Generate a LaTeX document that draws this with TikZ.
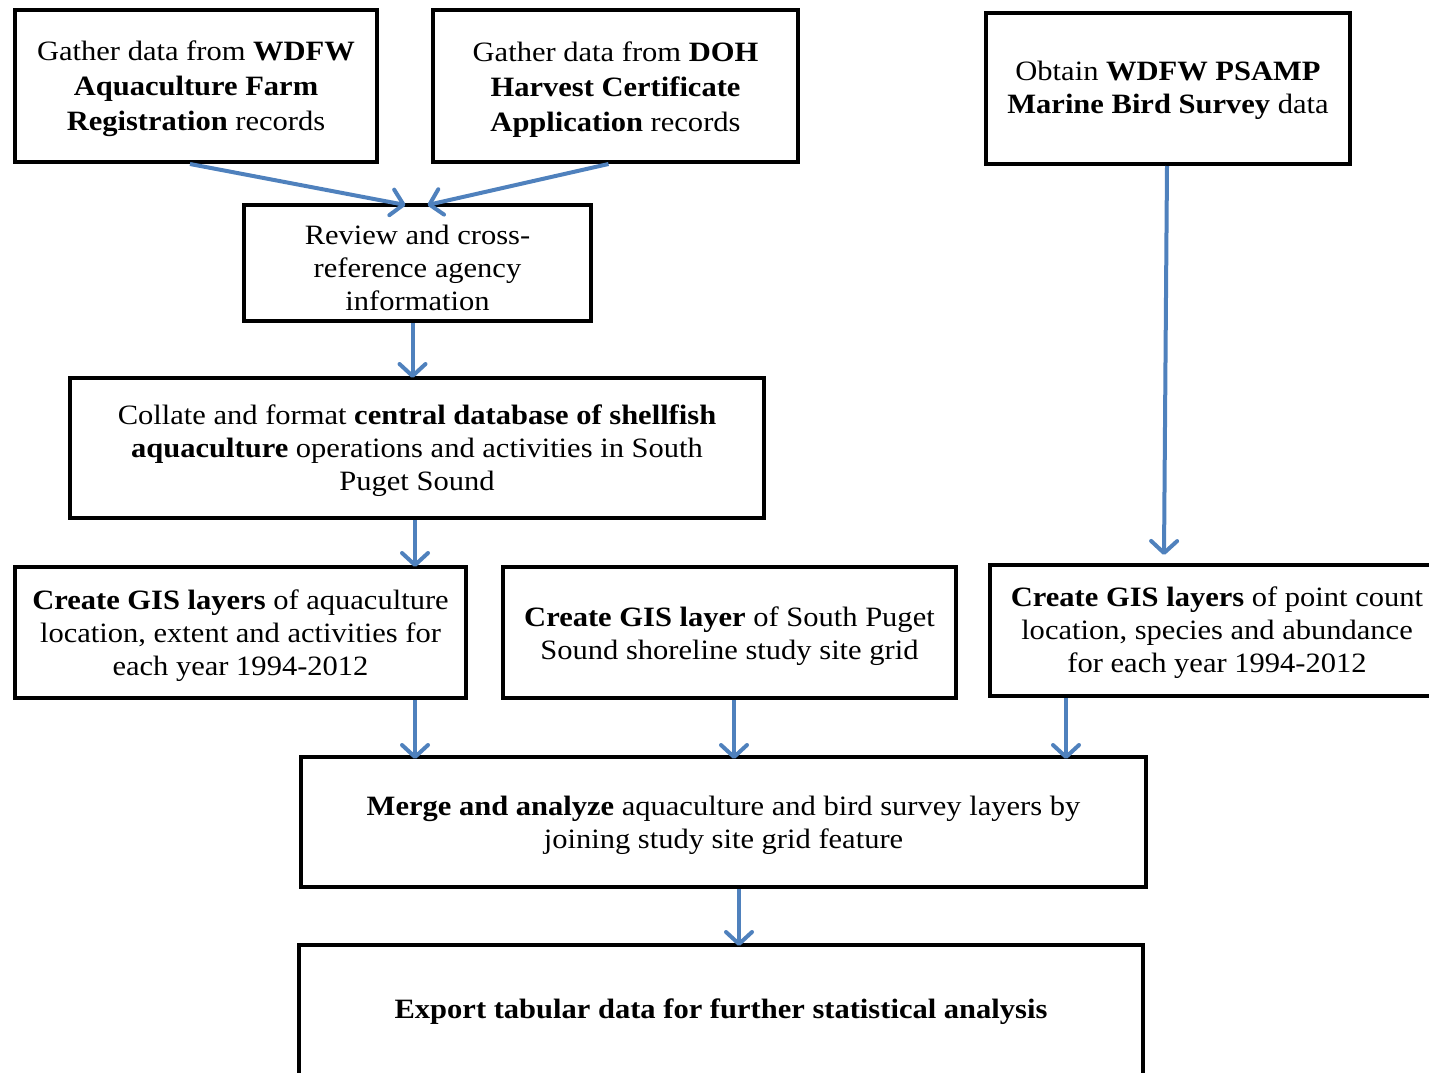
\documentclass[tikz,border=0pt]{standalone}
\usepackage{fontspec}
\setmainfont{Liberation Serif}[FakeStretch=1.09]
\usetikzlibrary{arrows.meta}
\definecolor{arrowblue}{HTML}{4F81BD}
\newcommand{\topadj}[1]{\rule{0pt}{#1}}
\begin{document}
\begin{tikzpicture}[x=1pt,y=-1pt,
  box/.style={draw, line width=4pt, align=center, inner sep=0pt,
    font=\fontsize{28}{33}\selectfont},
  wide/.style={font=\fontsize{28}{35}\selectfont},
  flow/.style={draw=arrowblue, line width=4pt,
    -{Straight Barb[round,length=12pt,width=26pt]}}]
\useasboundingbox (0,0) rectangle (1429,1072);
\clip (0,0) rectangle (1429,1072);
\node[box, wide, minimum width=362pt, minimum height=152pt] (A) at (196,86)
  {\topadj{26pt}Gather data from \textbf{WDFW}\\ \textbf{Aquaculture Farm}\\ \textbf{Registration} records};
\node[box, wide, minimum width=365pt, minimum height=152pt] (B) at (615.5,86)
  {\topadj{26pt}Gather data from \textbf{DOH}\\ \textbf{Harvest Certificate}\\ \textbf{Application} records};
\node[box, minimum width=364pt, minimum height=151pt] (C) at (1168,88.5)
  {\topadj{24pt}Obtain \textbf{WDFW PSAMP}\\ \textbf{Marine Bird Survey} data};
\node[box, minimum width=347pt, minimum height=116pt] (D) at (417.5,263)
  {\topadj{29pt}Review and cross-\\ reference agency\\ information};
\node[box, minimum width=694pt, minimum height=140pt] (E) at (417,448)
  {\topadj{26pt}Collate and format \textbf{central database of shellfish}\\ \textbf{aquaculture} operations and activities in South\\ Puget Sound};
\node[box, minimum width=451pt, minimum height=131pt] (F) at (240.5,632.5)
  {\topadj{26pt}\textbf{Create GIS layers} of aquaculture\\ location, extent and activities for\\ each year 1994-2012};
\node[box, minimum width=453pt, minimum height=131pt] (G) at (729.5,632.5)
  {\topadj{27pt}\textbf{Create GIS layer} of South Puget\\ Sound shoreline study site grid};
\node[box, minimum width=454pt, minimum height=131pt] (H) at (1217,630.5)
  {\topadj{25pt}\textbf{Create GIS layers} of point count\\ location, species and abundance\\ for each year 1994-2012};
\node[box, minimum width=845pt, minimum height=130pt] (I) at (723.5,822)
  {\topadj{26pt}\textbf{Merge and analyze} aquaculture and bird survey layers by\\ joining study site grid feature};
\node[box, minimum width=844pt, minimum height=134pt] (J) at (721,1012)
  {\textbf{Export tabular data for further statistical analysis}};
\draw[flow] ([xshift=-6pt]A.south) -- ([xshift=-12pt,yshift=-2pt]D.north);
\draw[flow] ([xshift=-7pt]B.south) -- ([xshift=10pt,yshift=-2pt]D.north);
\draw[flow] ([xshift=-5pt]D.south) -- ([xshift=-5pt,yshift=-2pt]D.south |- E.north);
\draw[flow] ([xshift=-2pt]E.south) -- ([xshift=-2pt,yshift=-2pt]E.south |- F.north);
\draw[flow] ([xshift=-1pt]C.south) -- ([xshift=-53pt,yshift=8pt]H.north);
\draw[flow] ([xshift=174.5pt]F.south) -- ([xshift=174.5pt,yshift=-4pt]F.south |- I.north);
\draw[flow] ([xshift=4.5pt]G.south) -- ([xshift=4.5pt,yshift=-4pt]G.south |- I.north);
\draw[flow] ([xshift=-151pt]H.south) -- ([xshift=-151pt,yshift=-4pt]H.south |- I.north);
\draw[flow] ([xshift=15.5pt]I.south) -- ([xshift=15.5pt,yshift=-3pt]I.south |- J.north);
\end{tikzpicture}
\end{document}
